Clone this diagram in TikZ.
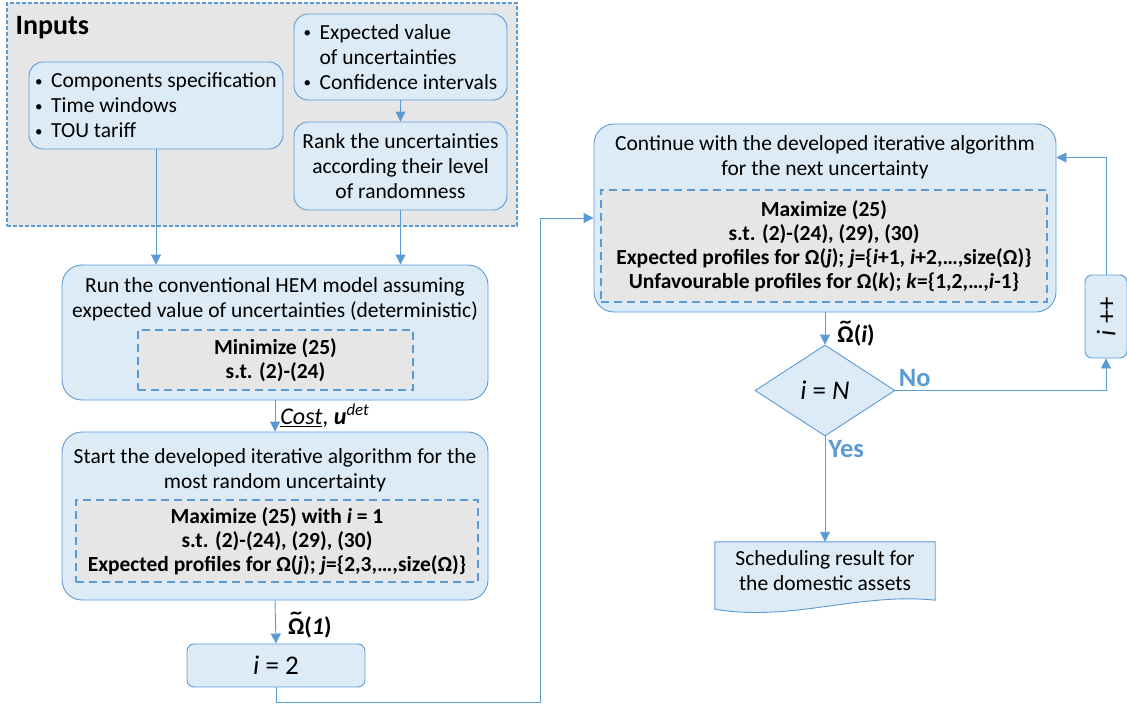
\documentclass[tikz,border=0pt]{standalone}
\usepackage{fontspec}
\setmainfont{Carlito}
\usepackage{tikz}
\usetikzlibrary{shapes,arrows.meta,positioning,calc,backgrounds}
\definecolor{hemline}{HTML}{5B9BD5}
\definecolor{hemfill}{HTML}{DDEBF7}
\definecolor{hemgray}{HTML}{E6E6E6}
\newcommand{\bul}{\makebox[16pt][l]{\raisebox{0.08em}{\scalebox{0.7}{\textbullet}}}}
\newcommand{\omtil}{\leavevmode\hbox{\ooalign{Ω\cr\hidewidth\raisebox{0.22em}{\scalebox{1.5}[1]{\char"02DC}}\hidewidth\cr}}}
\tikzstyle{block} = [rectangle, draw=hemline, line width=0.9pt, rounded corners=20pt,
    fill=hemfill, inner sep=0pt, font=\fontsize{21.5}{25}\selectfont]
\tikzstyle{smallblock} = [block, rounded corners=14pt]
\tikzstyle{tinyblock} = [block, rounded corners=7pt, font=\fontsize{27}{30}\selectfont]
\tikzstyle{title} = [align=center, inner sep=0pt, font=\fontsize{21.5}{25}\selectfont]
\tikzstyle{opt} = [rectangle, draw=hemline, line width=2pt, dash pattern=on 8pt off 5pt,
    fill=hemgray, align=center, inner sep=0pt, font=\fontsize{21.5}{24}\bfseries\selectfont]
\tikzstyle{arrow} = [-{Triangle[length=10pt,width=10pt]}, line width=0.9pt, hemline]
\tikzstyle{flowlabel} = [text=black, font=\fontsize{24}{26}\selectfont, inner sep=5pt]
\tikzstyle{omlabel} = [text=black, font=\fontsize{24}{26}\bfseries\selectfont, inner sep=0pt, xshift=12pt]
\tikzstyle{answer} = [font=\fontsize{26.5}{28}\bfseries\selectfont, text=hemline, inner sep=3pt]

\begin{document}
\begin{tikzpicture}[x=1pt, y=-1pt]
\useasboundingbox (0,0) rectangle (1127,704);
\node[rectangle, draw=hemline, line width=1.2pt, dash pattern=on 4pt off 2pt, fill=hemgray,
    minimum width=510pt, minimum height=223pt] (inputs) at (262,114.5) {};
\node[anchor=west, font=\fontsize{28}{30}\bfseries\selectfont] (inlabel) at (12,28) {Inputs};
\node[smallblock, minimum width=254pt, minimum height=87pt, align=left] (spec) at (156,105.5)
    {\bul Components specification\\ \bul Time windows\\ \bul TOU tariff};
\node[smallblock, minimum width=213pt, minimum height=86pt, align=left] (expval) at (400.5,57)
    {\bul Expected value\\ \hspace*{16pt}of uncertainties\\ \bul Confidence intervals};
\node[smallblock, minimum width=213pt, minimum height=88pt, align=center] (rank) at (400.5,166)
    {Rank the uncertainties\\according their level\\of randomness};

\node[block, minimum width=426pt, minimum height=135pt] (hem) at (275,332.5) {};
\node[title] (hemtxt) at (275,299.5) {Run the conventional HEM model assuming\\expected value of uncertainties (deterministic)};
\node[opt, minimum width=275pt, minimum height=60pt] (hemopt) at (275.5,360) {Minimize (25)\\s.t. (2)-(24)};

\node[block, minimum width=426pt, minimum height=168pt] (start) at (275,516) {};
\node[title] (starttxt) at (275,470.5) {Start the developed iterative algorithm for the\\most random uncertainty};
\node[opt, minimum width=402pt, minimum height=82pt] (startopt) at (277,541)
    {Maximize (25) with \textit{i} = 1\\s.t. (2)-(24), (29), (30)\\Expected profiles for Ω(\textit{j}); \textit{j}=\{2,3,…,size(Ω)\}};

\node[tinyblock, minimum width=178pt, minimum height=43pt] (itwo) at (276,665.5) {\textit{i} = 2};

\node[block, minimum width=462pt, minimum height=188pt] (cont) at (825,218) {};
\node[title] (conttxt) at (825,157.5) {Continue with the developed iterative algorithm\\for the next uncertainty};
\node[opt, minimum width=446pt, minimum height=112pt] (contopt) at (824,246)
    {Maximize (25)\\s.t. (2)-(24), (29), (30)\\Expected profiles for Ω(\textit{j}); \textit{j}=\{\textit{i}+1, \textit{i}+2,…,size(Ω)\}\\Unfavourable profiles for Ω(\textit{k}); \textit{k}=\{1,2,…,\textit{i}-1\}};

\node[diamond, draw=hemline, line width=0.9pt, fill=hemfill, inner sep=0pt, minimum width=140pt,
    minimum height=91pt, font=\fontsize{27}{30}\selectfont] (check) at (825,390.5) {\textit{i} = \textit{N}};
\node[tinyblock, rotate=90, minimum width=83pt, minimum height=42pt] (incr) at (1106,316.5) {\textit{i} ++};

\node[rectangle, minimum width=220pt, minimum height=58pt, align=center, inner sep=0pt,
    font=\fontsize{21.5}{25}\selectfont] (result) at (825,571) {Scheduling result for\\the domestic assets};
\begin{pgfonlayer}{background}
\draw[hemline, line width=0.9pt, fill=hemfill] (result.north west) -- (result.north east) -- (result.south east)
    .. controls ($(result.south east)+(-75,-8)$) and ($(result.south west)+(75,22)$) .. ($(result.south west)+(0,9)$) -- cycle;
\end{pgfonlayer}

\draw[arrow] (spec.south) -- (spec.south |- hem.north);
\draw[arrow] (rank.south) -- (rank.south |- hem.north);
\draw[arrow] (expval.south) -- (rank.north);
\draw[arrow] (hem.south) -- node[right, flowlabel] {\underline{\textit{Cost}}, \textbf{\textit{u}}\textsuperscript{\textit{det}}} (start.north);
\draw[arrow] (start.south) -- node[right, pos=0.62, omlabel] {\omtil(\textit{1})} (itwo.north);
\coordinate (turn) at (540,702);
\draw[arrow] (itwo.south) |- (turn) |- (cont.west);
\draw[arrow] (cont.south) -- node[right, pos=0.72, omlabel] {\omtil(\textit{i})} (check.north);
\draw[arrow] (check.east) -| node[pos=0, anchor=south west, answer] {No} (incr.west);
\draw[arrow] (incr.east) |- (conttxt -| cont.east);
\draw[arrow] (check.south) -- node[pos=0, anchor=north west, answer] {Yes} (result.north);
\end{tikzpicture}
\end{document}
